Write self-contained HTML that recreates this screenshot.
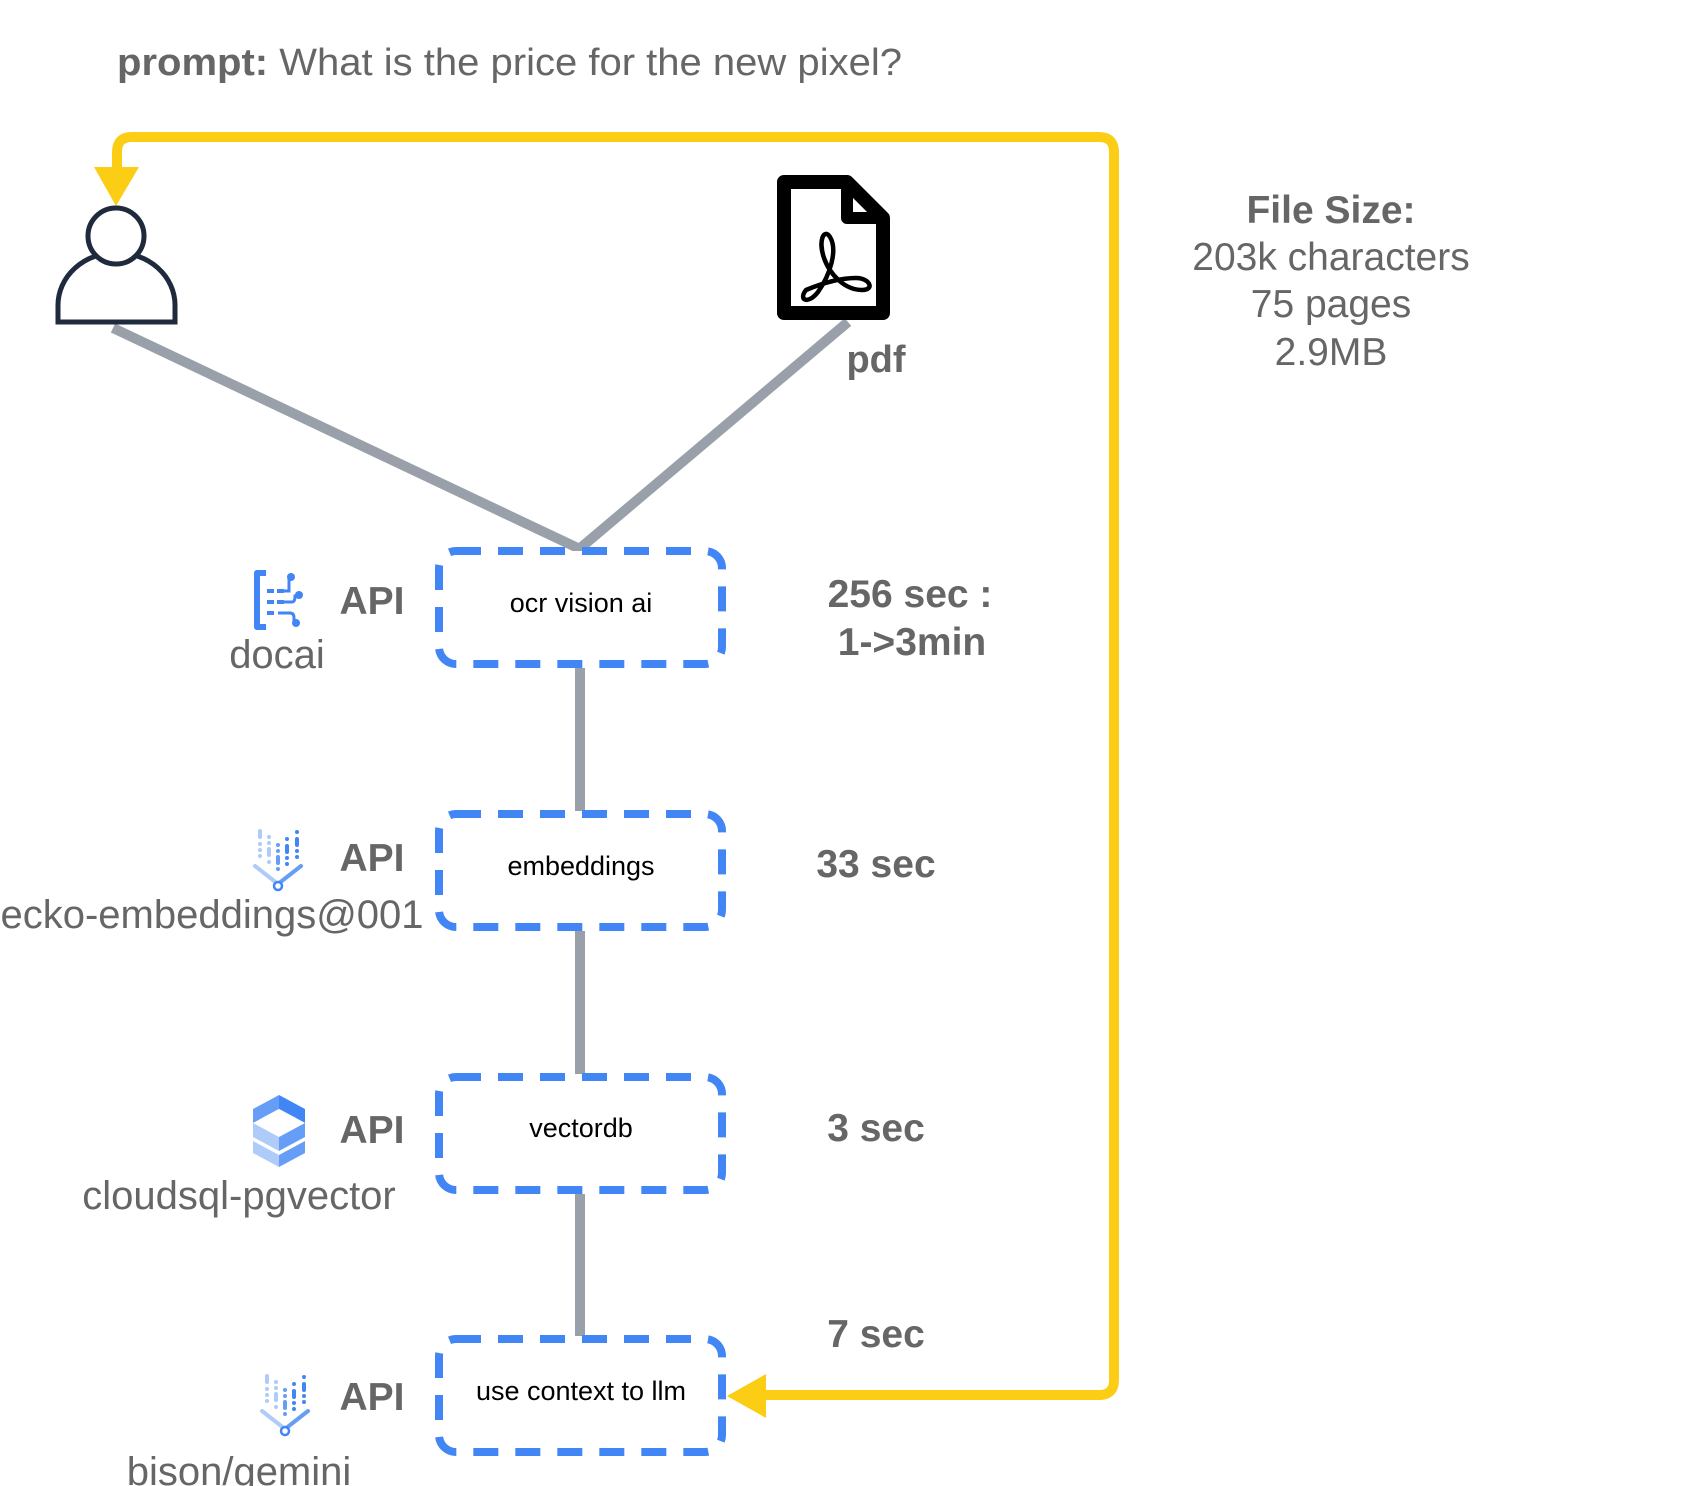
<!DOCTYPE html>
<html><head><meta charset="utf-8"><style>
html,body{margin:0;padding:0;background:#fff;}
svg{display:block;}
text{font-family:"Liberation Sans",Arial,sans-serif;}
</style></head><body>
<svg width="1687" height="1486" viewBox="0 0 1687 1486" xmlns="http://www.w3.org/2000/svg">
<defs>
<g id="emb">
  <g fill="#aecbfa">
    <rect x="4" y="0" width="4" height="10" rx="2"/>
    <circle cx="6" cy="15" r="2"/><circle cx="6" cy="21" r="2"/><circle cx="6" cy="27" r="2"/>
    <circle cx="15" cy="8" r="2"/><circle cx="15" cy="14" r="2"/>
    <rect x="13" y="18" width="4" height="10" rx="2"/><circle cx="15" cy="33" r="2"/>
  </g>
  <g fill="#669df6">
    <circle cx="24" cy="16" r="2"/><circle cx="24" cy="22" r="2"/>
    <rect x="22" y="26" width="4" height="10" rx="2"/><circle cx="24" cy="40" r="2"/>
  </g>
  <g fill="#4285f4">
    <circle cx="33" cy="10" r="2"/><rect x="31" y="15" width="4" height="10" rx="2"/>
    <circle cx="33" cy="29" r="2"/><circle cx="33" cy="35" r="2"/>
    <circle cx="43" cy="3" r="2"/><rect x="41" y="8" width="4" height="10" rx="2"/>
    <circle cx="43" cy="22" r="2"/><circle cx="43" cy="28" r="2"/>
  </g>
  <path d="M1 37 L24 55" stroke="#aecbfa" stroke-width="4" stroke-linecap="round"/>
  <path d="M24 55 L47 37" stroke="#669df6" stroke-width="4" stroke-linecap="round"/>
  <circle cx="24" cy="57" r="4" fill="#fff" stroke="#4285f4" stroke-width="2.5"/>
</g>
</defs>

<text x="117" y="75" font-size="38" fill="#666" textLength="785" lengthAdjust="spacingAndGlyphs"><tspan font-weight="bold">prompt:</tspan> What is the price for the new pixel?</text>

<path d="M765 1395 H1099 Q1114 1395 1114 1380 V152 Q1114 137 1099 137 H132 Q117 137 117 152 V170" fill="none" stroke="#fccd15" stroke-width="10"/>
<polygon points="94,167 139,167 116,206" fill="#fccd15"/>
<polygon points="727,1396 766,1374 766,1418" fill="#fccd15"/>

<g stroke="#99a0a9" stroke-width="10" fill="none">
<line x1="113" y1="328" x2="582" y2="550"/>
<line x1="848" y1="322" x2="578" y2="550"/>
<line x1="580" y1="668" x2="580" y2="811"/>
<line x1="580" y1="931" x2="580" y2="1074"/>
<line x1="580" y1="1194" x2="580" y2="1336"/>
</g>

<g stroke="#1f2a3c" stroke-width="5" fill="#fff">
<path d="M58 322 V305 A58 52 0 0 1 175 305 V322 Z"/>
<circle cx="116" cy="236" r="28"/>
</g>

<path d="M784 182 H847 L883 218 V313 H784 Z" fill="#fff" stroke="#000" stroke-width="14" stroke-linejoin="round"/>
<path d="M847 182 V218 H883" fill="none" stroke="#000" stroke-width="12" stroke-linejoin="round"/>
<path d="M806 290 C 798 300, 808 305, 818 292 C 830 275, 838 250, 830 237 C 824 228, 818 240, 824 258 C 830 275, 845 290, 862 290 C 875 290, 870 278, 856 278 C 838 278, 818 285, 806 290 Z" fill="none" stroke="#000" stroke-width="4.5"/>
<text x="876" y="372" font-size="38" font-weight="bold" fill="#666" text-anchor="middle">pdf</text>

<g font-size="39" fill="#666" text-anchor="middle">
<text x="1331" y="223" font-weight="bold">File Size:</text>
<text x="1331" y="270">203k characters</text>
<text x="1331" y="317">75 pages</text>
<text x="1331" y="365">2.9MB</text>
</g>

<g fill="#fff" stroke="#4285f4" stroke-width="8" stroke-dasharray="25 17">
<rect x="439" y="551" width="283" height="113" rx="17"/>
<rect x="439" y="814" width="283" height="113" rx="17"/>
<rect x="439" y="1077" width="283" height="113" rx="17"/>
<rect x="439" y="1339" width="283" height="113" rx="17"/>
</g>
<g font-size="27" fill="#000" text-anchor="middle">
<text x="581" y="612">ocr vision ai</text>
<text x="581" y="875">embeddings</text>
<text x="581" y="1137">vectordb</text>
<text x="581" y="1400">use context to llm</text>
</g>

<g font-size="39" font-weight="bold" fill="#666" text-anchor="middle">
<text x="372" y="614">API</text>
<text x="372" y="871">API</text>
<text x="372" y="1143">API</text>
<text x="372" y="1410">API</text>
</g>
<g font-size="40" fill="#666" text-anchor="middle">
<text x="277" y="668">docai</text>
<text x="212" y="928">ecko-embeddings@001</text>
<text x="239" y="1209">cloudsql-pgvector</text>
<text x="239" y="1485">bison/gemini</text>
</g>

<g font-size="39" font-weight="bold" fill="#666" text-anchor="middle">
<text x="910" y="607">256 sec :</text>
<text x="912" y="655">1-&gt;3min</text>
<text x="876" y="877">33 sec</text>
<text x="876" y="1141">3 sec</text>
<text x="876" y="1347">7 sec</text>
</g>

<g transform="translate(252,570)">
<path d="M14 3 H5 V57 H14" fill="none" stroke="#4285f4" stroke-width="6" stroke-linejoin="round"/>
<g fill="#4285f4">
<rect x="15" y="19" width="7" height="4"/><rect x="15" y="30" width="7" height="4"/><rect x="15" y="41" width="7" height="4"/>
<rect x="25" y="19" width="7" height="4"/><rect x="25" y="30" width="7" height="4"/>
<circle cx="39" cy="7" r="4"/><circle cx="47" cy="25" r="4"/><circle cx="44" cy="53" r="4"/>
</g>
<g fill="none" stroke="#4285f4" stroke-width="3">
<path d="M32 21 H37 V7"/><path d="M26 32 H40 Q43 32 43 26 H47"/><path d="M26 43 H38 Q42 43 42 48 V53"/>
</g>
</g>

<use href="#emb" transform="translate(254,829)"/>
<use href="#emb" transform="translate(261,1374)"/>

<g transform="translate(252,1095)">
<polygon points="27,0 53,14 53,28 27,14" fill="#4285f4"/>
<polygon points="27,0 1,14 1,28 27,14" fill="#669df6"/>
<polygon points="27,14 53,28 27,42 1,28" fill="#fff"/>
<polygon points="1,28 27,42 27,56 1,42" fill="#aecbfa"/>
<polygon points="53,28 27,42 27,56 53,42" fill="#669df6"/>
<polygon points="1,46 27,60 27,72 1,58" fill="#aecbfa"/>
<polygon points="53,46 27,60 27,72 53,58" fill="#669df6"/>
<polygon points="10,23 27,14 44,23 27,32" fill="#fff"/>
</g>
</svg>
</body></html>
